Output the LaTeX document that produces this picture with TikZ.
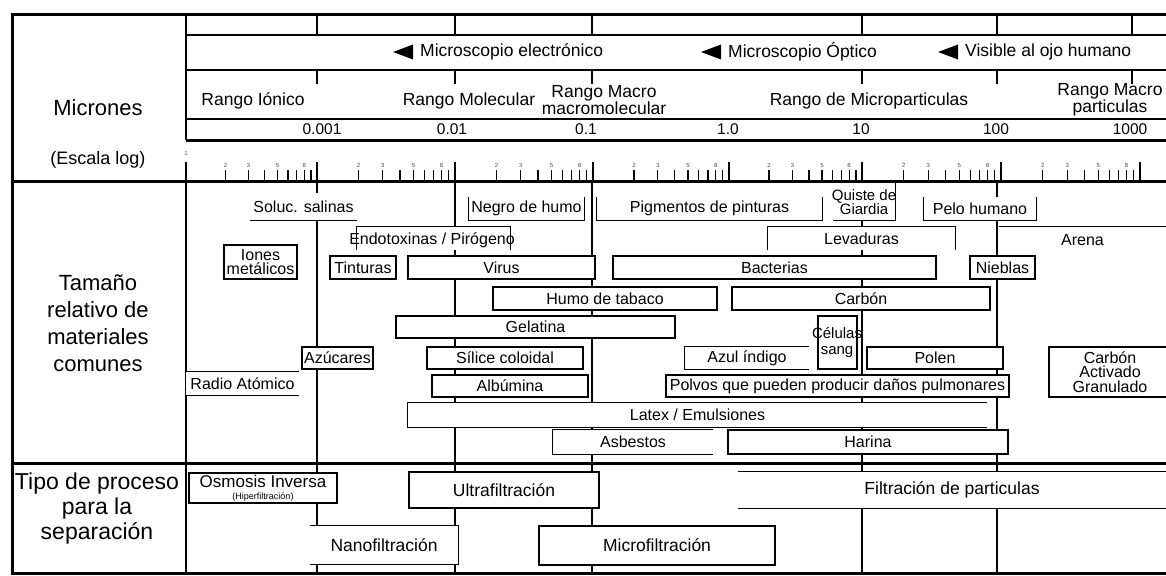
\documentclass[tikz,border=0pt]{standalone}
\usepackage{fontspec}
\setmainfont{Liberation Sans}

\begin{document}
\begin{tikzpicture}[x=1pt, y=-1pt,
	every node/.style={inner sep=0pt},
	gridline/.style={line width=1.2pt},
	heavy/.style={line width=3pt},
	side/.style={font=\fontsize{22}{27}\selectfont, align=center},
	hdr/.style={font=\fontsize{17.5}{15}\selectfont, align=center},
	num/.style={font=\fontsize{15.5}{16}\selectfont},
	digit/.style={font=\fontsize{6}{6}\selectfont, text=black!70},
	item/.style={fill=white, font=\fontsize{16}{14}\selectfont, align=center},
	ibox/.style={item, draw, line width=1.2pt},
	pbox/.style={ibox, font=\fontsize{17.5}{16}\selectfont}]
	
	\useasboundingbox (0,0) rectangle (1166,575);
	\clip (0,0) rectangle (1166,575);
	
	% decade lines
	\foreach \x in {317,455,592,862,997,1132}{
		\draw[gridline] (\x,15) -- (\x,35);
		\draw[gridline] (\x,70) -- (\x,84);
	}
	\foreach \x in {317,455,592,862,997}
		\draw[gridline] (\x,181) -- (\x,573);
	\draw[gridline] (186,15) -- (186,140);
	\draw[gridline] (186,181) -- (186,573);
	\foreach \y in {35,70,119}
		\draw[gridline] (186,\y) -- (1170,\y);
	
	% log scale
	\foreach \a/\b in {186/317,317/455,455/593,593/729,729/862,862/1001,1001/1140}{
		\draw[gridline] (\a,162) -- (\a,181);
		\foreach \k in {2,...,9}
			\draw[gridline] ({\a+(\b-\a)*log10(\k)},170) -- ++(0,11);
		\foreach \k in {2,3,5,8}
			\node[digit] at ({\a+(\b-\a)*log10(\k)},165) {\k};
	}
	\draw[gridline] (1140,162) -- (1140,181);
	\node[digit] (uno) at (186,153) {1};
	
	% left column
	\node[side] (micrones) at (98,108) {Micrones};
	\node[side, font=\fontsize{18}{20}\selectfont] (escala) at (98,160) {(Escala log)};
	\node[side] (tamano) at (98,323) {Tamaño\\relativo de\\materiales\\comunes};
	\node[side, font=\fontsize{23}{25}\selectfont] (tipo) at (97,509) {Tipo de proceso\\para la\\separación};
	
	% microscopes
	\node[hdr, anchor=west] (melec) at (420,52) {Microscopio electrónico};
	\node[hdr, anchor=west] (mopt) at (728,52) {Microscopio Óptico};
	\node[hdr, anchor=west] (ojo) at (965,52) {Visible al ojo humano};
	\foreach \n in {melec,mopt,ojo}
		\fill ([xshift=-7pt,yshift=7.5pt]\n.west) -- ++(0,-15pt) -- ++(-20pt,7.5pt) -- cycle;
	
	% ranges
	\node[hdr] (ionico) at (253,101) {Rango Iónico};
	\node[hdr] (molec) at (469,101) {Rango Molecular};
	\node[hdr] (macromol) at (604,100) {Rango Macro\\macromolecular};
	\node[hdr] (micropart) at (869,101) {Rango de Microparticulas};
	\node[hdr] (macropart) at (1110,100) {Rango Macro\\particulas};
	\foreach \x/\v [count=\i] in {322/0.001,452/0.01,586/0.1,728/1.0,861/10,996/100,1130/1000}
		\node[num] (num\i) at (\x,129) {\v};
	
	% common materials
	\node[item, minimum width=107pt, minimum height=27pt] (soluc) at (303.5,206.5) {Soluc. salinas};
	\draw[gridline] (soluc.south west) -- (soluc.south east);
	\node[ibox, minimum width=73pt, minimum height=34pt] (iones) at (260.5,262) {Iones\\metálicos};
	\node[ibox, minimum width=66pt, minimum height=23pt] (tint) at (363,267.5) {Tinturas};
	\node[item, minimum width=153pt, minimum height=23pt] (endo) at (433.5,238.5) {};
	\draw[gridline] (endo.south west) |- (endo.north east) -- (endo.south east);
	\node[font=\fontsize{16}{14}\selectfont] (endotxt) at (432,240) {Endotoxinas / Pirógeno};
	\node[ibox, minimum width=71pt, minimum height=22pt] (azuc) at (337.5,358) {Azúcares};
	\node[item, minimum width=113pt, minimum height=23pt] (radio) at (242.5,383.5) {Radio Atómico};
	\draw[gridline] (radio.north west) -- (radio.north east);
	\draw[gridline] (radio.south west) -- (radio.south east);
	\node[item, minimum width=115pt, minimum height=23pt] (negro) at (526.5,208.5) {Negro de humo};
	\draw[gridline] (negro.north west) |- (negro.south east) -- (negro.north east);
	\node[item, minimum width=225pt, minimum height=23pt] (pigm) at (709.5,208.5) {Pigmentos de pinturas};
	\draw[gridline] (pigm.north west) |- (pigm.south east) -- (pigm.north east);
	\node[item, minimum width=62pt, minimum height=38pt] (quiste) at (864,201) {};
	\draw[gridline] (quiste.south west) -- (quiste.south east) -- (quiste.north east);
	\node[font=\fontsize{15}{14}\selectfont, align=center] (quistetxt) at (864,202) {Quiste de\\Giardia};
	\node[item, minimum width=112pt, minimum height=23pt] (pelo) at (980,208.5) {Pelo humano};
	\draw[gridline] (pelo.north west) |- (pelo.south east) -- (pelo.north east);
	\node[item, minimum width=187pt, minimum height=23pt] (levad) at (861.5,238.5) {Levaduras};
	\draw[gridline] (levad.south west) |- (levad.north east) -- (levad.south east);
	\node[item, minimum width=167pt, minimum height=26pt] (arena) at (1082.5,240) {Arena};
	\draw[gridline] (arena.north west) -- (arena.north east);
	\node[ibox, minimum width=187pt, minimum height=23pt] (virus) at (501.5,267.5) {Virus};
	\node[ibox, minimum width=323pt, minimum height=23pt] (bact) at (774.5,267.5) {Bacterias};
	\node[ibox, minimum width=65pt, minimum height=23pt] (nieblas) at (1002.5,267.5) {Nieblas};
	\node[ibox, minimum width=224pt, minimum height=23pt] (humo) at (605,298.5) {Humo de tabaco};
	\node[ibox, minimum width=258pt, minimum height=23pt] (carbon) at (861,298.5) {Carbón};
	\node[ibox, minimum width=279pt, minimum height=22pt] (gelat) at (535.5,327) {Gelatina};
	\node[ibox, minimum width=156pt, minimum height=22pt] (silice) at (505,358) {Sílice coloidal};
	\node[item, minimum width=124pt, minimum height=22pt] (azul) at (747,358) {Azul índigo};
	\draw[gridline] (azul.north east) -- (azul.north west) -- (azul.south west) -- (azul.south east);
	\node[ibox, minimum width=39pt, minimum height=53pt] (celulas) at (837.5,342.5) {};
	\node[font=\fontsize{15}{16}\selectfont, align=center] (celtxt) at (837,343) {Células\\sang};
	\node[ibox, minimum width=136pt, minimum height=22pt] (polen) at (935,358) {Polen};
	\node[ibox, minimum width=122pt, minimum height=50pt, font=\fontsize{16}{14.5}\selectfont] (carbact) at (1110,372) {Carbón\\Activado\\Granulado};
	\node[ibox, minimum width=156pt, minimum height=22pt] (albu) at (510,386) {Albúmina};
	\node[ibox, minimum width=343pt, minimum height=22pt] (polvos) at (837.5,386) {Polvos que pueden producir daños pulmonares};
	\node[item, minimum width=579pt, minimum height=24pt] (latex) at (697.5,415) {Latex / Emulsiones};
	\draw[gridline] (latex.north east) -- (latex.north west) -- (latex.south west) -- (latex.south east);
	\node[item, minimum width=160pt, minimum height=24pt] (asbes) at (633,442) {Asbestos};
	\draw[gridline] (asbes.north east) -- (asbes.north west) -- (asbes.south west) -- (asbes.south east);
	\node[ibox, minimum width=280pt, minimum height=24pt] (harina) at (868,442) {Harina};
	
	% separation processes
	\node[pbox, minimum width=148pt, minimum height=30pt, font=\fontsize{17}{12}\selectfont] (osmosis) at (263,488) {Osmosis Inversa\\{\fontsize{9}{9}\selectfont (Hiperfiltración)}};
	\node[pbox, minimum width=190pt, minimum height=36pt] (ultra) at (504,490) {Ultrafiltración};
	\node[item, minimum width=428pt, minimum height=36pt, font=\fontsize{17.5}{16}\selectfont] (filt) at (952,490) {Filtración de particulas};
	\draw[gridline] (filt.north west) -- (filt.north east);
	\draw[gridline] (filt.south west) -- (filt.south east);
	\node[item, minimum width=148pt, minimum height=38pt, font=\fontsize{17.5}{16}\selectfont] (nano) at (384,545) {Nanofiltración};
	\draw[gridline] (nano.north west) -- (nano.north east) -- (nano.south east) -- (nano.south west);
	\node[pbox, minimum width=236pt, minimum height=39pt] (micro) at (657,545.5) {Microfiltración};
	
	% frame
	\draw[heavy] (186,140) -- (1170,140);
	\draw[heavy] (12,181) -- (1170,181);
	\draw[heavy] (12,463) -- (1170,463);
	\draw[heavy] (1170,15) -- (12,15) -- (12,573) -- (1170,573);
\end{tikzpicture}
\end{document}
